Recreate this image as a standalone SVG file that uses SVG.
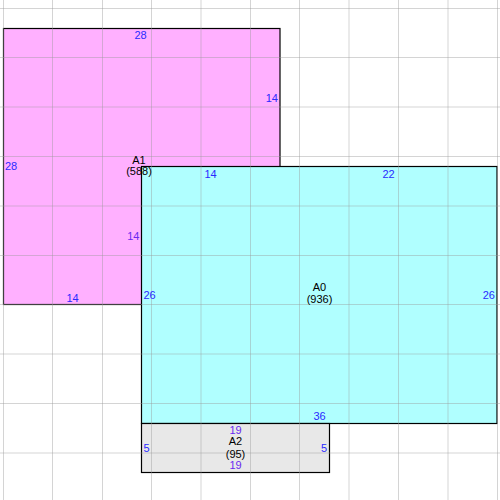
<svg xmlns="http://www.w3.org/2000/svg" width="500" height="500" viewBox="0 0 500 500">
<style>
.box{stroke:#000;stroke-width:1.2}
.grid line{stroke:#999;stroke-opacity:0.42;stroke-width:1}
text{font-family:"Liberation Sans",Arial,sans-serif;font-size:11px}
.len{fill:#2a2aff}
.len2{fill:#6a2af0}
.nm{fill:#000;text-anchor:middle}
.c{text-anchor:middle}
.e{text-anchor:end}
</style>
<rect width="500" height="500" fill="#fff"/>
<g id="A1"><rect class="box" x="3.5" y="28.5" width="276.5" height="276" fill="#ffb0ff"/></g>
<g id="A0"><rect class="box" x="141.5" y="166.5" width="355.5" height="257" fill="#b0ffff"/></g>
<g id="A2"><rect class="box" x="141.5" y="423.5" width="188" height="49" fill="#e8e8e8"/></g>
<g class="grid">
<line x1="3.5" y1="0" x2="3.5" y2="500"/>
<line x1="52.5" y1="0" x2="52.5" y2="500"/>
<line x1="102.5" y1="0" x2="102.5" y2="500"/>
<line x1="151.5" y1="0" x2="151.5" y2="500"/>
<line x1="201" y1="0" x2="201" y2="500"/>
<line x1="250.5" y1="0" x2="250.5" y2="500"/>
<line x1="299.5" y1="0" x2="299.5" y2="500"/>
<line x1="349" y1="0" x2="349" y2="500"/>
<line x1="398.5" y1="0" x2="398.5" y2="500"/>
<line x1="448" y1="0" x2="448" y2="500"/>
<line x1="497.5" y1="0" x2="497.5" y2="500"/>
<line x1="0" y1="8.5" x2="500" y2="8.5"/>
<line x1="0" y1="57.5" x2="500" y2="57.5"/>
<line x1="0" y1="107" x2="500" y2="107"/>
<line x1="0" y1="156.5" x2="500" y2="156.5"/>
<line x1="0" y1="206" x2="500" y2="206"/>
<line x1="0" y1="255.5" x2="500" y2="255.5"/>
<line x1="0" y1="304.5" x2="500" y2="304.5"/>
<line x1="0" y1="354" x2="500" y2="354"/>
<line x1="0" y1="403.5" x2="500" y2="403.5"/>
<line x1="0" y1="453" x2="500" y2="453"/>
</g>
<g id="A1-labels">
<text class="len c" x="140.5" y="38.5">28</text>
<text class="len" x="5" y="170">28</text>
<text class="len e" x="278" y="101.5">14</text>
<text class="len c" x="72.5" y="301.5">14</text>
<text class="len2 e" x="139.5" y="240">14</text>
<text class="nm" x="139" y="163.5">A1</text>
<text class="nm" x="139" y="175">(588)</text>
</g>
<g id="A0-labels">
<text class="len c" x="210.5" y="177.5">14</text>
<text class="len c" x="388.5" y="177.5">22</text>
<text class="len" x="143.5" y="298.5">26</text>
<text class="len e" x="495" y="298.5">26</text>
<text class="len c" x="319.5" y="420">36</text>
<text class="nm" x="319.5" y="291">A0</text>
<text class="nm" x="319.5" y="302.5">(936)</text>
</g>
<g id="A2-labels">
<text class="len2 c" x="235.5" y="433.5">19</text>
<text class="len2 c" x="235.5" y="469">19</text>
<text class="len" x="143.5" y="451.5">5</text>
<text class="len e" x="327" y="451.5">5</text>
<text class="nm" x="235.5" y="444.5">A2</text>
<text class="nm" x="235.5" y="458">(95)</text>
</g>
</svg>
